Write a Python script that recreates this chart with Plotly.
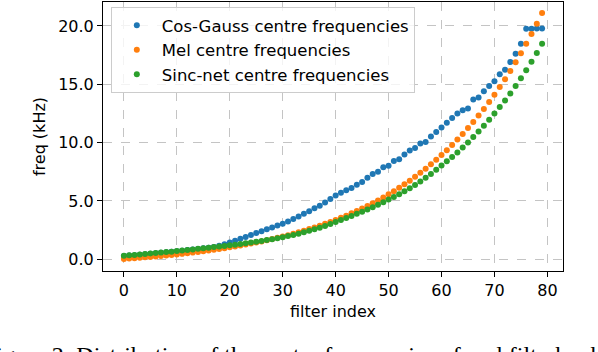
import plotly.graph_objects as go

filter_index = list(range(80))

cos_gauss_khz = [
    0.28, 0.32, 0.36, 0.40, 0.44, 0.48, 0.52, 0.56, 0.60, 0.64,
    0.69, 0.74, 0.79, 0.84, 0.89, 0.95, 1.00, 1.06, 1.17, 1.30,
    1.44, 1.60, 1.76, 1.92, 2.08, 2.25, 2.41, 2.57, 2.73, 2.89,
    3.05, 3.25, 3.45, 3.68, 3.90, 4.12, 4.38, 4.60, 4.88, 5.17,
    5.47, 5.70, 5.92, 6.12, 6.40, 6.62, 6.98, 7.32, 7.50, 7.90,
    8.02, 8.42, 8.58, 8.98, 9.32, 9.55, 9.92, 10.06, 10.52, 10.92,
    11.30, 11.70, 12.10, 12.50, 12.78, 12.93, 13.69, 13.86, 14.40, 14.86,
    15.26, 15.85, 16.25, 16.90, 17.62, 18.47, 19.75, 19.75, 19.78, 19.78,
]

mel_khz = [
    0.031, 0.063, 0.096, 0.131, 0.168, 0.206, 0.246, 0.287, 0.331, 0.376,
    0.423, 0.472, 0.524, 0.578, 0.634, 0.692, 0.754, 0.817, 0.884, 0.954,
    1.026, 1.102, 1.181, 1.264, 1.350, 1.440, 1.534, 1.632, 1.735, 1.842,
    1.953, 2.070, 2.191, 2.318, 2.451, 2.589, 2.734, 2.885, 3.042, 3.206,
    3.378, 3.557, 3.744, 3.939, 4.143, 4.356, 4.578, 4.809, 5.051, 5.304,
    5.568, 5.843, 6.130, 6.430, 6.743, 7.070, 7.412, 7.768, 8.140, 8.528,
    8.933, 9.356, 9.798, 10.259, 10.740, 11.243, 11.767, 12.315, 12.886, 13.483,
    14.106, 14.756, 15.435, 16.144, 16.884, 17.656, 18.462, 19.304, 20.182, 21.099,
]

sincnet_khz = [
    0.30, 0.34, 0.38, 0.42, 0.46, 0.50, 0.54, 0.58, 0.62, 0.66,
    0.71, 0.76, 0.80, 0.85, 0.90, 0.95, 1.00, 1.05, 1.10, 1.15,
    1.20, 1.26, 1.32, 1.38, 1.44, 1.51, 1.58, 1.65, 1.73, 1.81,
    1.90, 1.99, 2.09, 2.20, 2.32, 2.44, 2.57, 2.71, 2.86, 3.02,
    3.20, 3.38, 3.55, 3.72, 3.90, 4.08, 4.27, 4.47, 4.68, 4.90,
    5.12, 5.35, 5.58, 5.83, 6.09, 6.37, 6.67, 6.99, 7.32, 7.68,
    8.04, 8.40, 8.77, 9.16, 9.58, 10.02, 10.48, 10.95, 11.45, 11.97,
    12.50, 13.05, 13.62, 14.22, 14.85, 15.51, 16.20, 16.92, 17.68, 18.47,
]

series_names = ["Cos-Gauss centre frequencies", "Mel centre frequencies", "Sinc-net centre frequencies"]
series_colors = ["#1f77b4", "#ff7f0e", "#2ca02c"]
x_ticks = [0, 10, 20, 30, 40, 50, 60, 70, 80]
y_ticks = [0, 5, 10, 15, 20]
caption = "Figure 2: Distribution of the centre frequencies of mel filterbanks"

FONT = "DejaVu Sans"

fig = go.Figure()
for name, color, vals in zip(series_names, series_colors, [cos_gauss_khz, mel_khz, sincnet_khz]):
    fig.add_trace(go.Scatter(
        x=filter_index, y=vals, mode="markers", name=name,
        marker=dict(color=color, size=6, line=dict(width=0)),
    ))

axis_common = dict(
    showline=True, linecolor="black", linewidth=1, mirror=True,
    ticks="outside", ticklen=5, tickwidth=1, tickcolor="black",
    showgrid=True, gridcolor="#c4c4c4", griddash="dash", gridwidth=1,
    zeroline=False, tickfont=dict(family=FONT, size=16, color="black"),
    automargin=False,
)

fig.update_xaxes(
    range=[-3.95, 82.95], tickvals=x_ticks,
    title=dict(text="filter index", font=dict(family=FONT, size=16, color="black"), standoff=6),
    **axis_common,
)
fig.update_yaxes(
    range=[-1.0, 22.05], tickvals=y_ticks, tickformat=".1f",
    title=dict(text="freq (kHz)", font=dict(family=FONT, size=16, color="black"), standoff=8),
    **axis_common,
)

fig.update_layout(
    width=598, height=352,
    margin=dict(l=103, r=35, t=2, b=81, autoexpand=False),
    paper_bgcolor="white", plot_bgcolor="white",
    font=dict(family=FONT, size=16, color="black"),
    showlegend=True,
    legend=dict(
        x=0.017, y=0.981, xanchor="left", yanchor="top",
        bgcolor="rgba(255,255,255,0.8)", bordercolor="#cccccc", borderwidth=1,
        font=dict(family=FONT, size=16.5, color="black"),
        tracegroupgap=0, itemwidth=40,
    ),
    annotations=[dict(
        text=caption, xref="paper", yref="paper",
        x=(-19 - 103) / 460, y=-(340 - 271) / 269,
        xanchor="left", yanchor="top", showarrow=False,
        font=dict(family="Liberation Serif", size=24, color="black"),
    )],
)

fig.write_html(
    "out.html",
    config={"displayModeBar": False},
    post_script="document.body.style.margin='0';",
)
